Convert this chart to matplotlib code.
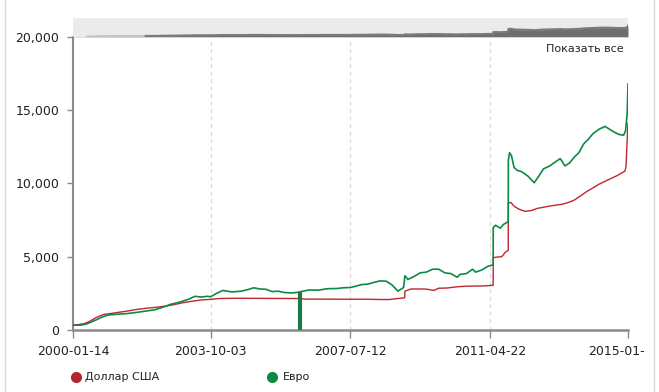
import matplotlib
matplotlib.use("Agg")
import matplotlib.pyplot as plt
import matplotlib.transforms as mtransforms
import pandas as pd
from matplotlib.lines import Line2D

# ==============================
# Данные
# ==============================
usd_dates = ["2000-01-14", "2000-03-01", "2000-05-01", "2000-07-01", "2000-08-15", "2000-10-01",
             "2000-11-15", "2001-01-15", "2001-04-01", "2001-07-01", "2001-10-01", "2002-01-01",
             "2002-04-01", "2002-07-01", "2002-10-01", "2003-01-01", "2003-04-01", "2003-07-01",
             "2003-10-03", "2004-01-01", "2004-06-01", "2005-01-01", "2005-06-01", "2006-01-01",
             "2006-03-15", "2006-04-15", "2007-01-01", "2007-07-01", "2008-01-01", "2008-05-01",
             "2008-08-01", "2008-10-01", "2008-12-31", "2009-01-02", "2009-03-01", "2009-06-01",
             "2009-08-01", "2009-10-15", "2009-12-01", "2010-03-01", "2010-06-01", "2010-09-01",
             "2010-12-01", "2011-03-01", "2011-05-23", "2011-05-24", "2011-07-01", "2011-08-15",
             "2011-09-20", "2011-10-19", "2011-10-20", "2011-11-15", "2011-12-15", "2012-02-01",
             "2012-04-01", "2012-06-01", "2012-08-01", "2012-10-01", "2012-12-01", "2013-02-01",
             "2013-04-01", "2013-06-01", "2013-08-01", "2013-10-01", "2013-12-01", "2014-02-01",
             "2014-04-01", "2014-06-01", "2014-08-01", "2014-10-01", "2014-12-15", "2014-12-25",
             "2015-01-08", "2015-01-13"]
usd_values = [330, 360, 430, 600, 800, 950,
              1070, 1120, 1200, 1290, 1400, 1480,
              1540, 1620, 1720, 1860, 1960, 2050,
              2090, 2150, 2165, 2160, 2155, 2150,
              2140, 2110, 2105, 2100, 2100, 2080,
              2080, 2130, 2200, 2650, 2800, 2800,
              2790, 2700, 2850, 2870, 2950, 2990,
              3000, 3010, 3050, 4930, 4980, 5000,
              5300, 5450, 8680, 8700, 8450, 8250,
              8100, 8150, 8300, 8380, 8460, 8520,
              8580, 8700, 8870, 9150, 9450, 9700,
              9950, 10150, 10350, 10550, 10850, 11200,
              13500, 14100]

eur_dates = ["2000-01-14", "2000-04-01", "2000-06-01", "2000-09-01", "2000-11-01", "2001-01-01",
             "2001-04-01", "2001-07-01", "2001-10-01", "2002-01-01", "2002-04-01", "2002-07-01",
             "2002-09-01", "2002-12-01", "2003-03-01", "2003-05-01", "2003-07-01", "2003-09-01",
             "2003-10-03", "2003-12-01", "2004-02-01", "2004-05-01", "2004-08-01", "2004-10-01",
             "2004-12-01", "2005-02-01", "2005-04-01", "2005-06-01", "2005-08-01", "2005-10-01",
             "2005-12-01", "2006-02-01", "2006-04-01", "2006-06-01", "2006-09-01", "2006-12-01",
             "2007-03-01", "2007-05-01", "2007-07-12", "2007-09-01", "2007-11-01", "2008-01-01",
             "2008-03-01", "2008-05-01", "2008-07-01", "2008-08-01", "2008-09-01", "2008-10-25",
             "2008-12-20", "2009-01-02", "2009-02-01", "2009-04-01", "2009-06-01", "2009-08-01",
             "2009-10-01", "2009-12-01", "2010-02-01", "2010-04-01", "2010-06-01", "2010-07-01",
             "2010-09-01", "2010-11-01", "2010-12-01", "2011-02-01", "2011-04-01", "2011-05-23",
             "2011-05-24", "2011-06-15", "2011-08-01", "2011-09-01", "2011-10-19", "2011-10-20",
             "2011-11-01", "2011-11-20", "2011-12-15", "2012-01-15", "2012-03-01", "2012-05-01",
             "2012-07-01", "2012-08-15", "2012-10-01", "2012-12-01", "2013-02-01", "2013-03-15",
             "2013-05-01", "2013-06-15", "2013-08-01", "2013-09-15", "2013-11-01", "2013-12-15",
             "2014-02-01", "2014-04-01", "2014-06-01", "2014-07-15", "2014-09-01", "2014-10-15",
             "2014-12-01", "2014-12-20", "2015-01-05", "2015-01-13"]
eur_values = [330, 330, 420, 700, 900, 1030,
              1080, 1120, 1200, 1290, 1380, 1580,
              1750, 1900, 2100, 2300, 2250, 2300,
              2270, 2500, 2700, 2600, 2650, 2750,
              2880, 2800, 2780, 2620, 2650, 2560,
              2530, 2560, 2650, 2730, 2720, 2820,
              2830, 2880, 2900, 2980, 3100, 3130,
              3250, 3350, 3330, 3200, 3050, 2650,
              2900, 3700, 3450, 3650, 3900, 3950,
              4150, 4150, 3900, 3850, 3600, 3800,
              3850, 4150, 3950, 4100, 4350, 4450,
              7000, 7150, 6950, 7200, 7400, 11600,
              12100, 11900, 11100, 10900, 10800, 10500,
              10050, 10500, 11000, 11200, 11500, 11700,
              11200, 11400, 11800, 12100, 12700, 13000,
              13400, 13700, 13900, 13700, 13500, 13350,
              13300, 13600, 14800, 16800]

# выброс в данных по евро (столбик до нуля)
glitch_date = ["2006-03-01"]
glitch_value = [2560]

x_ticks = ["2000-01-14", "2003-10-03", "2007-07-12", "2011-04-22", "2015-01-13"]
x_labels = ["2000-01-14", "2003-10-03", "2007-07-12", "2011-04-22", "2015-01-"]
y_ticks = [0, 5000, 10000, 15000, 20000]

usd = pd.Series(usd_values, index=pd.to_datetime(usd_dates))
eur = pd.Series(eur_values, index=pd.to_datetime(eur_dates))
tick_dates = pd.to_datetime(x_ticks)
x_min, x_max = tick_dates[0], tick_dates[-1]

RED = "#c0262c"
GREEN = "#0b8a45"
TXT = "#222222"

# ==============================
# Рисунок
# ==============================
fig = plt.figure(figsize=(6.59, 3.92), dpi=100)
W, H = 659, 392
ax = fig.add_axes([73 / W, (H - 330) / H, 555 / W, 293 / H])

ax.plot(usd.index, usd.values, color=RED, lw=1.0, zorder=3)
ax.plot(eur.index, eur.values, color=GREEN, lw=1.2, zorder=4)
ax.vlines(pd.to_datetime(glitch_date), 0, glitch_value, color="#1a7a48", lw=3, zorder=4)

ax.set_xlim(x_min, x_max)
ax.set_ylim(0, 20000)
ax.set_xticks(tick_dates)
# последняя подпись обрезана в оригинале - ставлю её отдельно
ax.set_xticklabels(x_labels[:-1] + [""])
ax.set_yticks(y_ticks)
ax.set_yticklabels([f"{v:,}" for v in y_ticks])

offset = mtransforms.ScaledTranslation(-40 / 100, -11 / 72, fig.dpi_scale_trans)
ax.text(x_max, 0, x_labels[-1], transform=ax.get_xaxis_transform() + offset,
        ha="left", va="top", fontsize=9, color=TXT, clip_on=False)

for d in tick_dates[1:]:
    ax.axvline(d, color="#d9d9d9", lw=0.9, ls=(0, (3, 3)), zorder=1)

for s in ["top", "right"]:
    ax.spines[s].set_visible(False)
ax.spines["left"].set_color("#8a8a8a")
ax.spines["bottom"].set_color("#8a8a8a")
ax.spines["left"].set_linewidth(1.5)
ax.spines["bottom"].set_linewidth(1.8)
ax.tick_params(axis="y", length=4, width=1, color="#8a8a8a", labelsize=9, labelcolor=TXT, pad=6)
ax.tick_params(axis="x", length=6, width=1, color="#8a8a8a", labelsize=9, labelcolor=TXT, pad=5)

ax.text(0.993, 0.975, "Показать все", transform=ax.transAxes, ha="right", va="top",
        fontsize=8, color=TXT)

# ==============================
# Навигатор сверху
# ==============================
nav = fig.add_axes([73 / W, (H - 37) / H, 555 / W, 19 / H])
nav.set_facecolor("#ebebeb")
nav.fill_between(eur.index, 0, eur.values, color="#6e6e6e", lw=0)
early = eur[(eur.index >= "2000-06-01") & (eur.index <= "2002-01-01")]
late = eur[eur.index >= "2002-01-01"]
nav.plot(early.index, early.values, color="#c4c4c4", lw=1.5)
nav.plot(late.index, late.values, color="#7a7a7a", lw=1.5)
nav.set_xlim(x_min, x_max)
nav.set_ylim(-300, 28500)
nav.set_xticks([])
nav.set_yticks([])
for s in nav.spines.values():
    s.set_visible(False)

# ==============================
# Легенда и рамка
# ==============================
fig.add_artist(Line2D([76 / W], [(H - 377) / H], marker="o", ms=7, color="#b5252b", lw=0))
fig.text(85 / W, (H - 377) / H, "Доллар США", fontsize=8, color=TXT, va="center")
fig.add_artist(Line2D([272 / W], [(H - 377) / H], marker="o", ms=7, color="#0c8a45", lw=0))
fig.text(283 / W, (H - 377) / H, "Евро", fontsize=8, color=TXT, va="center")

fig.add_artist(Line2D([5 / W, 5 / W], [0, 1], color="#dcdcdc", lw=1))
fig.add_artist(Line2D([654 / W, 654 / W], [0, 1], color="#dcdcdc", lw=1))

fig.savefig("out.png", dpi=100)
